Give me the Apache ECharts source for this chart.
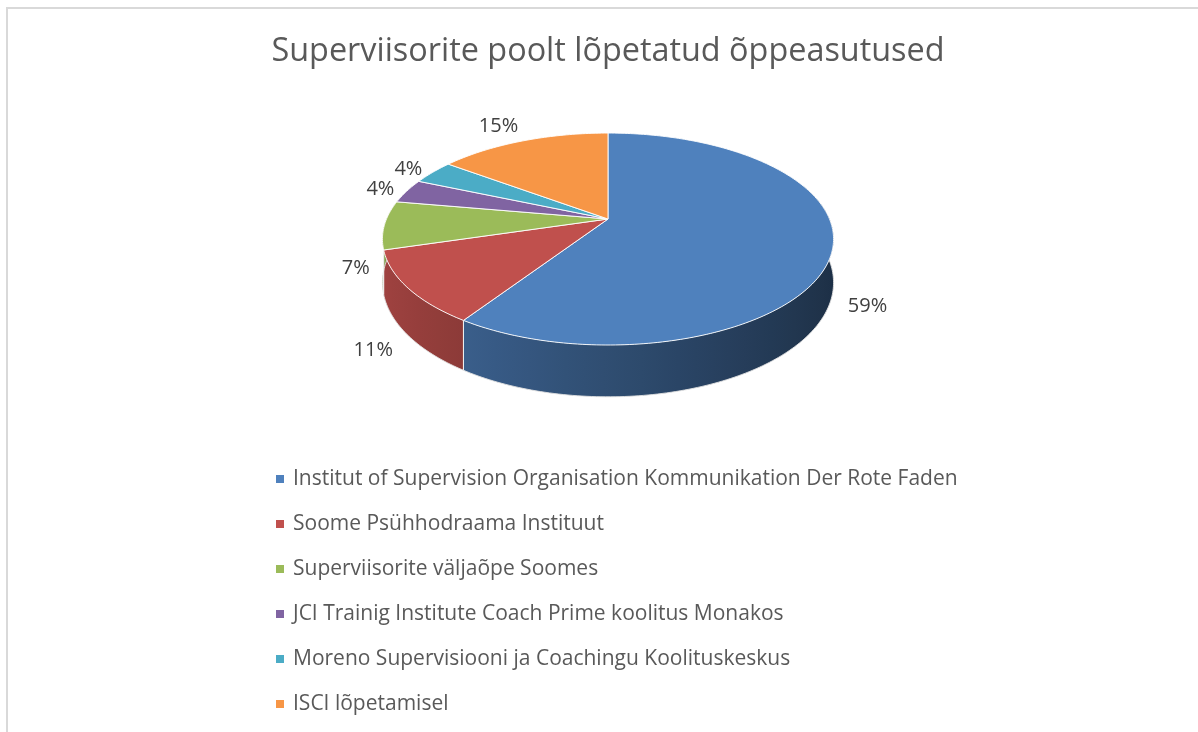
<!DOCTYPE html>
<html>
<head>
<meta charset="utf-8">
<script src="https://cdn.jsdelivr.net/npm/echarts@6/dist/echarts.min.js"></script>
<style>
  html, body { margin: 0; padding: 0; background: #fff; }
  #chart { width: 1198px; height: 732px; }
</style>
</head>
<body>
<div id="chart"></div>
<script>
  const categories = [
    'Institut of Supervision Organisation Kommunikation Der Rote Faden',
    'Soome Psühhodraama Instituut',
    'Superviisorite väljaõpe Soomes',
    'JCI Trainig Institute Coach Prime koolitus Monakos',
    'Moreno Supervisiooni ja Coachingu Koolituskeskus',
    'ISCI lõpetamisel'
  ];
  const values = [16, 3, 2, 1, 1, 4];
  const colors = ['#4f81bd', '#c0504d', '#9bbb59', '#8064a2', '#4bacc6', '#f79646'];

  const total = values.reduce((a, b) => a + b, 0);
  const starts = values.map((v, i) => values.slice(0, i).reduce((a, b) => a + b, 0));

  // perspective disc: centre, radius, depth squash, perspective factor, thickness
  const CX = 608, CY = 219, R = 221.5, B = 102.2, P = 0.189, H = 42;
  const FONT = '"Open Sans", sans-serif';

  function proj(u, v, z) {
    const p = 1 / (1 - P * v);
    return [CX + R * u * p, CY + B * v * p + z * p];
  }
  function rim(deg, z, k) {
    const t = deg * Math.PI / 180;
    k = k || 1;
    return proj(Math.sin(t) * k, -Math.cos(t) * k, z);
  }
  function shade(hex, f) {
    const n = parseInt(hex.slice(1), 16);
    const r = Math.round(((n >> 16) & 255) * f);
    const g = Math.round(((n >> 8) & 255) * f);
    const b = Math.round((n & 255) * f);
    return 'rgb(' + r + ',' + g + ',' + b + ')';
  }
  function arc(t0, t1, z) {
    const n = Math.max(2, Math.ceil(t1 - t0));
    const pts = [];
    for (let k = 0; k <= n; k++) pts.push(rim(t0 + (t1 - t0) * k / n, z));
    return pts;
  }

  // wall light: darker on the right, lighter towards the left
  const xRight = rim(101, H / 2)[0], xLeft = rim(259, H / 2)[0];
  function wallFill(color) {
    const stops = [];
    for (let t = 101; t <= 259; t += 8) {
      const x = rim(t, H / 2)[0];
      stops.push({ offset: Math.min(1, Math.max(0, (xRight - x) / (xRight - xLeft))),
                   color: shade(color, 0.6 - 0.24 * Math.sin(t * Math.PI / 180)) });
    }
    return { type: 'linear', x: xRight, y: 0, x2: xLeft, y2: 0, global: true, colorStops: stops };
  }

  function renderSlice(params, api) {
    const i = params.dataIndex;
    const a0 = api.value(1) / total * 360;
    const a1 = api.value(2) / total * 360;
    const color = colors[i];
    const children = [];

    // side wall
    const b0 = Math.max(a0, 70), b1 = Math.min(a1, 290);
    if (b0 < b1) {
      const topEdge = arc(b0, b1, 0);
      const botEdge = arc(b0, b1, H);
      children.push({
        type: 'polygon', z2: 40,
        shape: { points: topEdge.concat(botEdge.slice().reverse()) },
        style: { fill: wallFill(color) }
      });
      children.push({
        type: 'polyline', z2: 95,
        shape: { points: botEdge },
        style: { fill: null, stroke: 'rgba(225,225,225,0.9)', lineWidth: 1 }
      });
    }
    [a0, a1].forEach(function (t) {
      if (-Math.cos(t * Math.PI / 180) > 0.19) {
        const p0 = rim(t, 0), p1 = rim(t, H);
        children.push({
          type: 'line', z2: 96,
          shape: { x1: p0[0], y1: p0[1], x2: p1[0], y2: p1[1] },
          style: { stroke: 'rgba(240,240,240,0.9)', lineWidth: 1 }
        });
      }
    });

    // top face
    children.push({
      type: 'polygon', z2: 100,
      shape: { points: [proj(0, 0, 0)].concat(arc(a0, a1, 0)) },
      style: { fill: color, stroke: 'rgba(255,255,255,0.9)', lineWidth: 1 }
    });

    // percentage label
    const mid = (a0 + a1) / 2;
    const tm = mid * Math.PI / 180;
    const um = Math.sin(tm), vm = -Math.cos(tm);
    const lp = rim(mid, vm > 0 ? H : 0, 1.065);
    children.push({
      type: 'text', z2: 120,
      x: lp[0], y: lp[1],
      style: {
        text: Math.round(api.value(0) / total * 100) + '%',
        fill: '#404040',
        font: '20px ' + FONT,
        align: um >= 0 ? 'left' : 'right',
        verticalAlign: vm > 0.2 ? 'top' : (vm < -0.7 ? 'bottom' : 'middle')
      }
    });

    return { type: 'group', children: children };
  }

  const chart = echarts.init(document.getElementById('chart'), null, { renderer: 'canvas' });

  const legendSeries = categories.map(function (name, i) {
    return {
      type: 'custom', name: name, data: [],
      coordinateSystem: 'none',
      itemStyle: { color: colors[i] },
      renderItem: function () { return null; }
    };
  });

  chart.setOption({
    backgroundColor: '#ffffff',
    animation: false,
    title: {
      text: 'Superviisorite poolt lõpetatud õppeasutused',
      left: 603,
      top: 31,
      textAlign: 'center',
      textStyle: { fontFamily: FONT, fontSize: 32.4, fontWeight: 'normal', color: '#595959' }
    },
    legend: {
      orient: 'vertical',
      left: 271,
      top: 462,
      icon: 'rect',
      itemWidth: 8,
      itemHeight: 8,
      itemGap: 21,
      data: categories,
      textStyle: {
        fontFamily: FONT, fontSize: 21, color: '#595959',
        lineHeight: 24, padding: [0, 0, 0, 4]
      }
    },
    graphic: [
      { type: 'polyline', shape: { points: [[7, 732], [7, 8], [1198, 8]] },
        style: { fill: null, stroke: '#d9d9d9', lineWidth: 2 } }
    ],
    series: [{
      type: 'custom',
      name: 'pie3d',
      coordinateSystem: 'none',
      renderItem: renderSlice,
      data: values.map(function (v, i) {
        return { name: categories[i], value: [v, starts[i], starts[i] + v] };
      })
    }].concat(legendSeries)
  });
</script>
</body>
</html>
